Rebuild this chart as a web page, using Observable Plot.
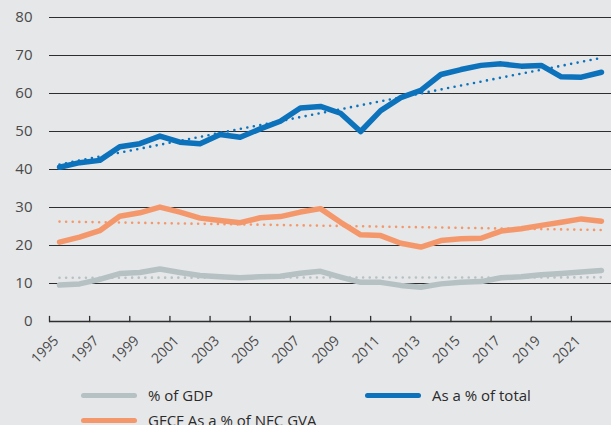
<!DOCTYPE html>
<html>
<head>
<meta charset="utf-8">
<script src="https://cdn.jsdelivr.net/npm/d3@7"></script>
<script src="https://cdn.jsdelivr.net/npm/@observablehq/plot@0.6"></script>
<style>
  html, body { margin: 0; padding: 0; background: #e6e7e9; width: 611px; height: 425px; overflow: hidden; font-family: "Open Sans", sans-serif; }
  body { position: relative; }
  #chart svg { display: block; }
  .item { position: absolute; display: flex; align-items: center; font-size: 15px; color: #2a2a2a; white-space: nowrap; height: 20px; }
  .sw { width: 56px; height: 5px; border-radius: 3px; margin-right: 11px; flex: none; }
</style>
</head>
<body>
<div id="chart"></div>
<div class="item" id="lg0" style="left:81px; top:385px;"></div>
<div class="item" id="lg1" style="left:365px; top:385px;"></div>
<div class="item" id="lg2" style="left:81px; top:410px;"></div>
<script>
const years = [1995,1996,1997,1998,1999,2000,2001,2002,2003,2004,2005,2006,2007,2008,
               2009,2010,2011,2012,2013,2014,2015,2016,2017,2018,2019,2020,2021,2022];
const pctGDP   = [9.6,9.9,11.1,12.6,12.9,13.8,12.9,12.1,11.8,11.5,11.8,11.9,12.7,13.2,
                  11.7,10.3,10.3,9.5,9.0,9.9,10.3,10.5,11.5,11.8,12.3,12.6,13.0,13.4];
const pctTotal = [40.6,41.8,42.4,46.0,46.8,48.8,47.2,46.8,49.2,48.5,50.7,52.7,56.2,56.6,
                  54.8,50.0,55.5,58.9,60.8,65.0,66.3,67.4,67.8,67.2,67.4,64.4,64.3,65.6];
const pctNFC   = [20.9,22.2,23.9,27.7,28.6,30.1,28.8,27.2,26.6,26.0,27.3,27.6,28.8,29.7,
                  26.1,22.8,22.6,20.6,19.6,21.3,21.8,21.9,23.8,24.4,25.3,26.1,27.0,26.4];
const seriesNames = ["% of GDP", "As a % of total", "GFCF As a % of NFC GVA"];
const seriesColors = ["#b6c1c4", "#0b72bb", "#f4986c"];
const yTicks = [0,10,20,30,40,50,60,70,80];
const xLabels = [1995,1997,1999,2001,2003,2005,2007,2009,2011,2013,2015,2017,2019,2021];
const xTickPositions = [1994.5,1996.5,1998.5,2000.5,2002.5,2004.5,2006.5,2008.5,2010.5,2012.5,2014.5,2016.5,2018.5,2020.5];

const allSeries = [pctGDP, pctTotal, pctNFC];
const data = allSeries.flatMap((vals, s) => years.map((yr, i) => ({year: yr, value: vals[i], series: seriesNames[s]})));

const tickShape = { draw(context, l) { context.moveTo(0, 0); context.lineTo(0, -l); } };

const chart = Plot.plot({
  width: 611,
  height: 375,
  marginLeft: 49,
  marginRight: 0,
  marginTop: 17,
  marginBottom: 54,
  style: { background: "transparent", fontFamily: "Open Sans, sans-serif", fontSize: "15px", color: "#4a4a4a" },
  x: { domain: [1994.5, 2022.5], axis: null },
  y: { domain: [0, 80], axis: null },
  color: { domain: seriesNames, range: seriesColors },
  marks: [
    Plot.ruleY(yTicks.filter(d => d > 0), { stroke: "#2e2e2e", strokeWidth: 1.2 }),
    Plot.ruleY([0], { stroke: "#2e2e2e", strokeWidth: 1.4 }),
    Plot.vectorX(xTickPositions, { x: d => d, frameAnchor: "bottom", anchor: "start", length: 5, shape: tickShape, stroke: "#2e2e2e", strokeWidth: 1.3 }),
    Plot.text(yTicks, { y: d => d, frameAnchor: "left", textAnchor: "end", dx: -17, text: d => String(d), fill: "#4a4a4a", fontSize: 15 }),
    Plot.text(xLabels, { x: d => d, frameAnchor: "bottom", text: d => String(d), rotate: -45, textAnchor: "end", dy: 20, dx: 0, fill: "#4a4a4a", fontSize: 14 }),
    Plot.line(data, { x: "year", y: "value", z: "series", stroke: "series", strokeWidth: 5.5, strokeLinejoin: "round", strokeLinecap: "round" }),
    Plot.linearRegressionY(data, { x: "year", y: "value", z: "series", stroke: "series", ci: 0, strokeWidth: 2.6, strokeDasharray: "0 6.6", strokeLinecap: "round" })
  ]
});
document.getElementById("chart").appendChild(chart);

seriesNames.forEach((name, i) => {
  const el = document.getElementById("lg" + i);
  const sw = document.createElement("span");
  sw.className = "sw";
  sw.style.background = seriesColors[i];
  const tx = document.createElement("span");
  tx.textContent = name;
  el.appendChild(sw);
  el.appendChild(tx);
});
</script>
</body>
</html>
